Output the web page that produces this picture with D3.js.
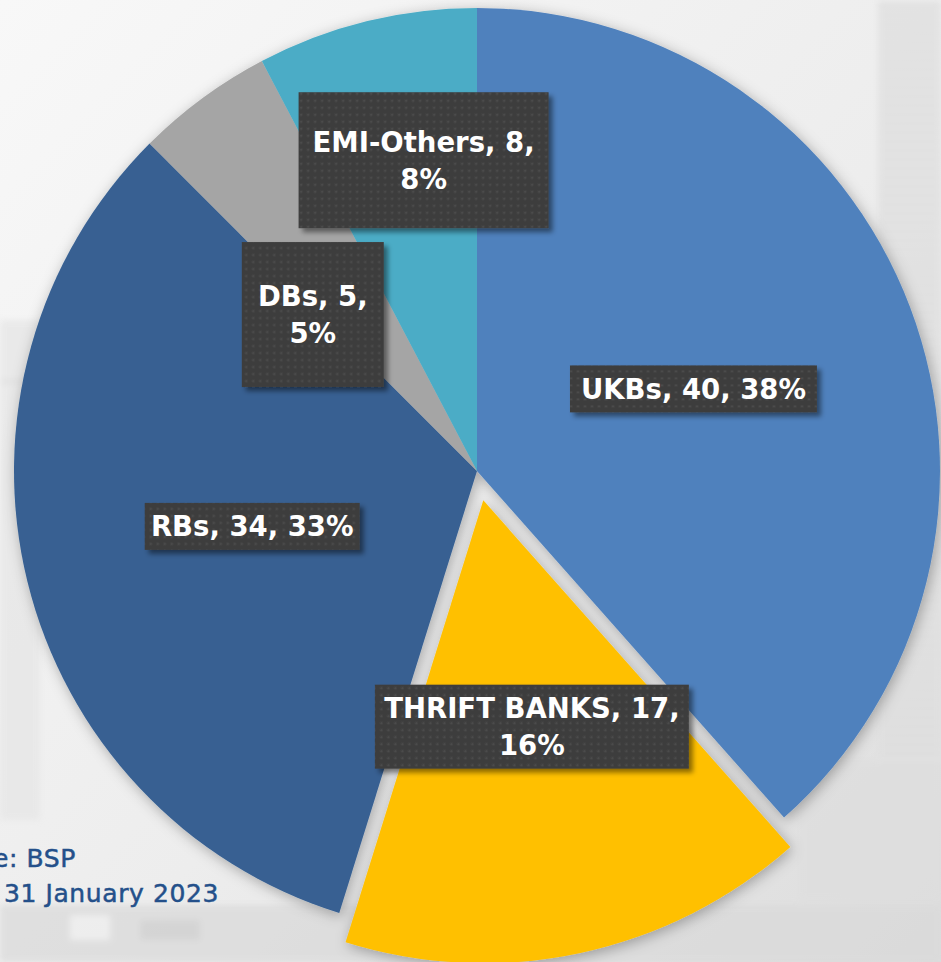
<!DOCTYPE html>
<html>
<head>
<meta charset="utf-8">
<script src="https://cdn.jsdelivr.net/npm/d3@7"></script>
<style>
  html, body { margin: 0; padding: 0; background: #e9e9e9; }
  svg { display: block; }
</style>
</head>
<body>
<div id="chart"></div>
<script>
// Number of institutions by type
const categories = ["UKBs", "THRIFT BANKS", "RBs", "DBs", "EMI-Others"];
const values = [40, 17, 34, 5, 8];
const colors = ["#4f81bd", "#ffc000", "#376092", "#a5a5a5", "#4bacc6"];

// Source note
const noteLines = ["Source: BSP", "as of 31 January 2023"];

// Label boxes: size, number of text lines, and nudge from the slice centroid
const labelBoxW = [247, 314, 215, 142, 250];
const labelBoxH = [47, 84, 47, 145, 136];
const labelLines = [1, 2, 1, 2, 2];
const labelNudgeX = [0, 0, 0, -27, 2];
const labelNudgeY = [0, 0, 0, 30, -86];
const explode = [0, 30, 0, 0, 0];

const W = 941, H = 962;
const cx = 477, cy = 471, R = 463;

const svg = d3.select("#chart").append("svg")
  .attr("width", W).attr("height", H);

const defs = svg.append("defs");

// backdrop gradient
const bg = defs.append("linearGradient").attr("id", "bg")
  .attr("x1", 0).attr("y1", 0).attr("x2", 1).attr("y2", 1);
bg.append("stop").attr("offset", 0).attr("stop-color", "#f8f8f8");
bg.append("stop").attr("offset", 0.55).attr("stop-color", "#ededed");
bg.append("stop").attr("offset", 1).attr("stop-color", "#dcdcdc");

const stripes = defs.append("pattern").attr("id", "stripes")
  .attr("width", 10).attr("height", 9).attr("patternUnits", "userSpaceOnUse");
stripes.append("rect").attr("width", 10).attr("height", 9).attr("fill", "#e4e4e4");
stripes.append("rect").attr("y", 5).attr("width", 10).attr("height", 3).attr("fill", "#d4d4d4");

const dots = defs.append("pattern").attr("id", "dots")
  .attr("width", 7).attr("height", 7).attr("patternUnits", "userSpaceOnUse");
dots.append("rect").attr("width", 7).attr("height", 7).attr("fill", "#3e3e3e");
dots.append("circle").attr("cx", 3.5).attr("cy", 3.5).attr("r", 1.1).attr("fill", "#505050");

const pieShadow = defs.append("filter").attr("id", "pieShadow")
  .attr("x", "-20%").attr("y", "-20%").attr("width", "140%").attr("height", "140%");
pieShadow.append("feDropShadow").attr("dx", 2).attr("dy", 3)
  .attr("stdDeviation", 7).attr("flood-color", "#000").attr("flood-opacity", 0.3);

const boxShadow = defs.append("filter").attr("id", "boxShadow")
  .attr("x", "-20%").attr("y", "-30%").attr("width", "140%").attr("height", "160%");
boxShadow.append("feDropShadow").attr("dx", 4).attr("dy", 4)
  .attr("stdDeviation", 2.5).attr("flood-color", "#000").attr("flood-opacity", 0.45);

const soft = defs.append("filter").attr("id", "soft");
soft.append("feGaussianBlur").attr("stdDeviation", 3);

// background scenery
svg.append("rect").attr("width", W).attr("height", H).attr("fill", "url(#bg)");
const scenery = svg.append("g").attr("filter", "url(#soft)").attr("opacity", 0.75);
scenery.append("rect").attr("x", 878).attr("y", 0).attr("width", 63).attr("height", 760)
  .attr("fill", "url(#stripes)");
scenery.append("rect").attr("x", 0).attr("y", 320).attr("width", 40).attr("height", 500)
  .attr("fill", "#e6e6e6");
scenery.append("rect").attr("x", 0).attr("y", 380).attr("width", 40).attr("height", 3)
  .attr("fill", "#d6d6d6");
scenery.append("rect").attr("x", 0).attr("y", 905).attr("width", 941).attr("height", 57)
  .attr("fill", "#dadada");
scenery.append("rect").attr("x", 70).attr("y", 915).attr("width", 40).attr("height", 25)
  .attr("fill", "#eeeeee");
scenery.append("rect").attr("x", 140).attr("y", 920).attr("width", 60).attr("height", 20)
  .attr("fill", "#cdcdcd");
scenery.append("rect").attr("x", 800).attr("y", 760).attr("width", 141).attr("height", 140)
  .attr("fill", "#dedede");

// source note (runs off the left edge)
const note = svg.append("g")
  .attr("font-family", "'DejaVu Sans', sans-serif")
  .attr("font-size", 25)
  .attr("letter-spacing", 0.6)
  .attr("fill", "#24508a")
  .attr("stroke", "#24508a")
  .attr("stroke-width", 0.5);
note.append("text").attr("x", 76).attr("y", 867).attr("text-anchor", "end").text(noteLines[0]);
note.append("text").attr("x", 219).attr("y", 902).attr("text-anchor", "end").text(noteLines[1]);

// pie
const total = d3.sum(values);
const data = categories.map((c, i) => ({ name: c, value: values[i], i }));
const pie = d3.pie().value(d => d.value).sort(null).startAngle(0).endAngle(2 * Math.PI);
const arcs = pie(data);
const arc = d3.arc().innerRadius(0).outerRadius(R);
const labelArc = d3.arc().innerRadius(R / 2).outerRadius(R / 2);

function offset(a) {
  const mid = (a.startAngle + a.endAngle) / 2;
  const e = explode[a.data.i];
  return [e * Math.sin(mid), -e * Math.cos(mid)];
}

const g = svg.append("g").attr("transform", `translate(${cx},${cy})`);
g.append("g").attr("filter", "url(#pieShadow)")
  .selectAll("path").data(arcs).join("path")
  .attr("transform", d => `translate(${offset(d)})`)
  .attr("d", arc)
  .attr("fill", d => colors[d.data.i]);

// data labels
const fmtPct = v => Math.round(v / total * 100) + "%";
const labels = g.append("g").selectAll("g").data(arcs).join("g")
  .attr("transform", d => {
    const [ox, oy] = offset(d);
    const [lx, ly] = labelArc.centroid(d);
    const i = d.data.i;
    return `translate(${lx + ox + labelNudgeX[i]},${ly + oy + labelNudgeY[i]})`;
  });

labels.append("rect")
  .attr("x", d => -labelBoxW[d.data.i] / 2)
  .attr("y", d => -labelBoxH[d.data.i] / 2)
  .attr("width", d => labelBoxW[d.data.i])
  .attr("height", d => labelBoxH[d.data.i])
  .attr("fill", "url(#dots)")
  .attr("filter", "url(#boxShadow)");

labels.each(function(d) {
  const i = d.data.i;
  const first = `${d.data.name}, ${d.data.value},`;
  const pct = fmtPct(d.data.value);
  const lines = labelLines[i] === 1 ? [`${first} ${pct}`] : [first, pct];
  const lh = 37;
  const t = d3.select(this).append("text")
    .attr("text-anchor", "middle")
    .attr("font-family", "'DejaVu Sans', sans-serif")
    .attr("font-weight", "bold")
    .attr("font-size", 27.5)
    .attr("fill", "#ffffff");
  lines.forEach((ln, k) => {
    t.append("tspan")
      .attr("x", 0)
      .attr("y", (k - (lines.length - 1) / 2) * lh)
      .attr("dy", "0.36em")
      .text(ln);
  });
});
</script>
</body>
</html>
